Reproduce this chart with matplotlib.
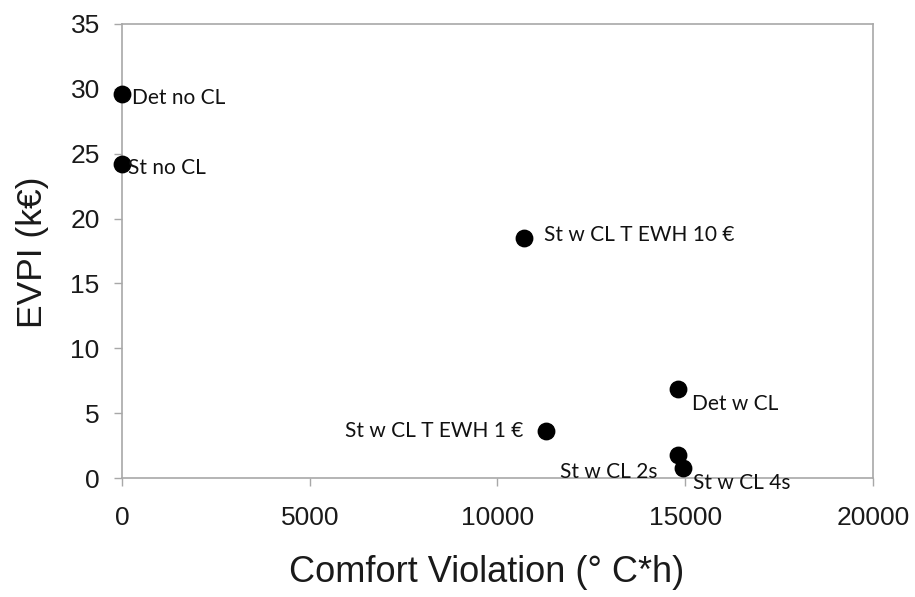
import matplotlib.pyplot as plt

# comfort violation (degC*h) vs EVPI (kEUR) for each control strategy
names = ['Det no CL', 'St no CL', 'St w CL T EWH 10 €', 'Det w CL',
         'St w CL T EWH 1 €', 'St w CL 2s', 'St w CL 4s']
comfort = [0, 0, 10700, 14800, 11300, 14800, 14950]
evpi = [29.6, 24.2, 18.5, 6.9, 3.6, 1.8, 0.8]

# label placement: offset in pixels from the marker, horizontal alignment
offsets = [(10, -4, 'left'), (6, -4, 'left'), (20, 3, 'left'), (14, -15, 'left'),
           (-23, 0, 'right'), (-20, -17, 'right'), (10, -15, 'left')]

fig = plt.figure(figsize=(9.15, 5.97), dpi=100)
ax = fig.add_axes([0.1333, 0.1993, 0.8208, 0.7605])

ax.scatter(comfort, evpi, s=140, color='black', zorder=3, clip_on=False)
for name, x, y, (dx, dy, ha) in zip(names, comfort, evpi, offsets):
    ax.annotate(name, (x, y), xytext=(dx, dy), textcoords='offset pixels',
                ha=ha, va='center', fontsize=15, family='Lato', color='#111111')

ax.set_xlim(0, 20000)
ax.set_ylim(0, 35)
ax.set_xticks([0, 5000, 10000, 15000, 20000])
ax.set_yticks([0, 5, 10, 15, 20, 25, 30, 35])

for sp in ax.spines.values():
    sp.set_color('#a8a8a8')
    sp.set_linewidth(1.2)
ax.tick_params(axis='both', colors='#a8a8a8', length=6, width=1.0,
               labelcolor='#1a1a1a', labelsize=19)
ax.tick_params(axis='x', pad=14)
ax.tick_params(axis='y', pad=10)
for lbl in ax.get_xticklabels() + ax.get_yticklabels():
    lbl.set_family('Liberation Sans')

ax.set_xlabel('Comfort Violation (° C*h)', fontsize=26, family='Liberation Sans',
              color='#1a1a1a', va='center')
ax.set_ylabel('EVPI (k€)', fontsize=25.5, family='Liberation Sans',
              color='#1a1a1a', va='center')
ax.xaxis.set_label_coords(0.486, -0.209)
ax.yaxis.set_label_coords(-0.1185, 0.498)

fig.savefig('out.png', dpi=100)
